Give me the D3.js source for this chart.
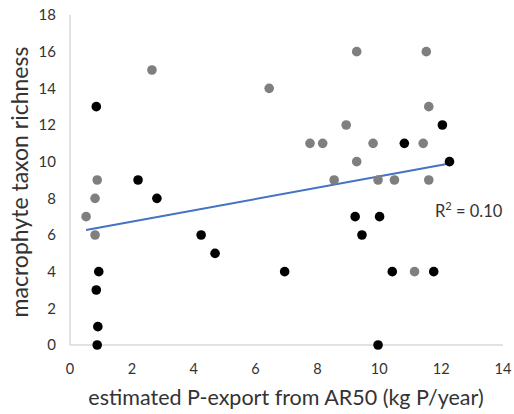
<!DOCTYPE html>
<html>
<head>
<meta charset="utf-8">
<script src="https://cdn.jsdelivr.net/npm/d3@7"></script>
<style>
	body { margin: 0; background: #fff; }
	text { font-family: Lato, "Open Sans", sans-serif; fill: #333; }
</style>
</head>
<body>
<svg id="chart" width="514" height="414"></svg>
<script>
// grey series
const greyX = [2.65, 0.88, 0.81, 0.52, 0.81, 9.27, 11.52, 6.44, 11.6, 8.93, 7.76, 8.17, 9.8, 11.42, 9.27, 8.54, 9.96, 10.49, 11.6, 11.14];
const greyY = [15, 9, 8, 7, 6, 16, 16, 14, 13, 12, 11, 11, 11, 11, 10, 9, 9, 9, 9, 4];
// black series
const blackX = [0.85, 2.2, 2.81, 4.24, 4.69, 0.93, 0.85, 0.9, 0.88, 12.04, 10.81, 12.27, 9.22, 10.01, 9.44, 6.94, 10.42, 11.76, 9.96];
const blackY = [13, 9, 8, 6, 5, 4, 3, 1, 0, 12, 11, 10, 7, 7, 6, 4, 4, 4, 0];
// linear trendline ends
const trendX = [0.52, 12.27];
const trendY = [6.27, 9.9];

const xTicks = [0, 2, 4, 6, 8, 10, 12, 14];
const yTicks = [0, 2, 4, 6, 8, 10, 12, 14, 16, 18];
const rSquaredLabel = "0.10";

const svg = d3.select("#chart");

const x = d3.scaleLinear().domain([0, 14]).range([70, 503]);
const y = d3.scaleLinear().domain([0, 18]).range([345, 15]);

// axis lines
svg.append("line")
	.attr("x1", x(0)).attr("x2", x(0))
	.attr("y1", y(18)).attr("y2", y(0))
	.attr("stroke", "#d9d9d9").attr("stroke-width", 1.5);
svg.append("line")
	.attr("x1", x(0)).attr("x2", x(14))
	.attr("y1", y(0)).attr("y2", y(0))
	.attr("stroke", "#d9d9d9").attr("stroke-width", 1.5);

svg.selectAll(".ytick")
	.data(yTicks)
	.enter().append("text")
	.attr("class", "ytick")
	.attr("x", x(0) - 14)
	.attr("y", (d) => y(d))
	.attr("dy", "0.36em")
	.attr("text-anchor", "end")
	.style("font-size", "15px")
	.text((d) => d);

svg.selectAll(".xtick")
	.data(xTicks)
	.enter().append("text")
	.attr("class", "xtick")
	.attr("x", (d) => x(d))
	.attr("y", 374)
	.attr("text-anchor", "middle")
	.style("font-size", "14.5px")
	.text((d) => d);

// titles
svg.append("text")
	.attr("x", 286)
	.attr("y", 405)
	.attr("text-anchor", "middle")
	.style("font-size", "21.5px")
	.text("estimated P-export from AR50 (kg P/year)");

svg.append("text")
	.attr("transform", "translate(28,182) rotate(-90)")
	.attr("text-anchor", "middle")
	.style("font-size", "23px")
	.text("macrophyte taxon richness");

svg.append("line")
	.attr("x1", x(trendX[0])).attr("y1", y(trendY[0]))
	.attr("x2", x(trendX[1])).attr("y2", y(trendY[1]))
	.attr("stroke", "#4472c4").attr("stroke-width", 2);

const greyPts = greyX.map((v, i) => ({ x: v, y: greyY[i] }));
const blackPts = blackX.map((v, i) => ({ x: v, y: blackY[i] }));

svg.selectAll(".grey")
	.data(greyPts)
	.enter().append("circle")
	.attr("class", "grey")
	.attr("cx", (d) => x(d.x))
	.attr("cy", (d) => y(d.y))
	.attr("r", 4.8)
	.attr("fill", "#7f7f7f");

svg.selectAll(".black")
	.data(blackPts)
	.enter().append("circle")
	.attr("class", "black")
	.attr("cx", (d) => x(d.x))
	.attr("cy", (d) => y(d.y))
	.attr("r", 4.8)
	.attr("fill", "#000");

const r2 = svg.append("text")
	.attr("x", 435)
	.attr("y", 217)
	.style("font-size", "16.5px");
r2.append("tspan").text("R");
r2.append("tspan").attr("dy", -7).style("font-size", "11px").text("2");
r2.append("tspan").attr("dy", 7).text(" = " + rSquaredLabel);
</script>
</body>
</html>
